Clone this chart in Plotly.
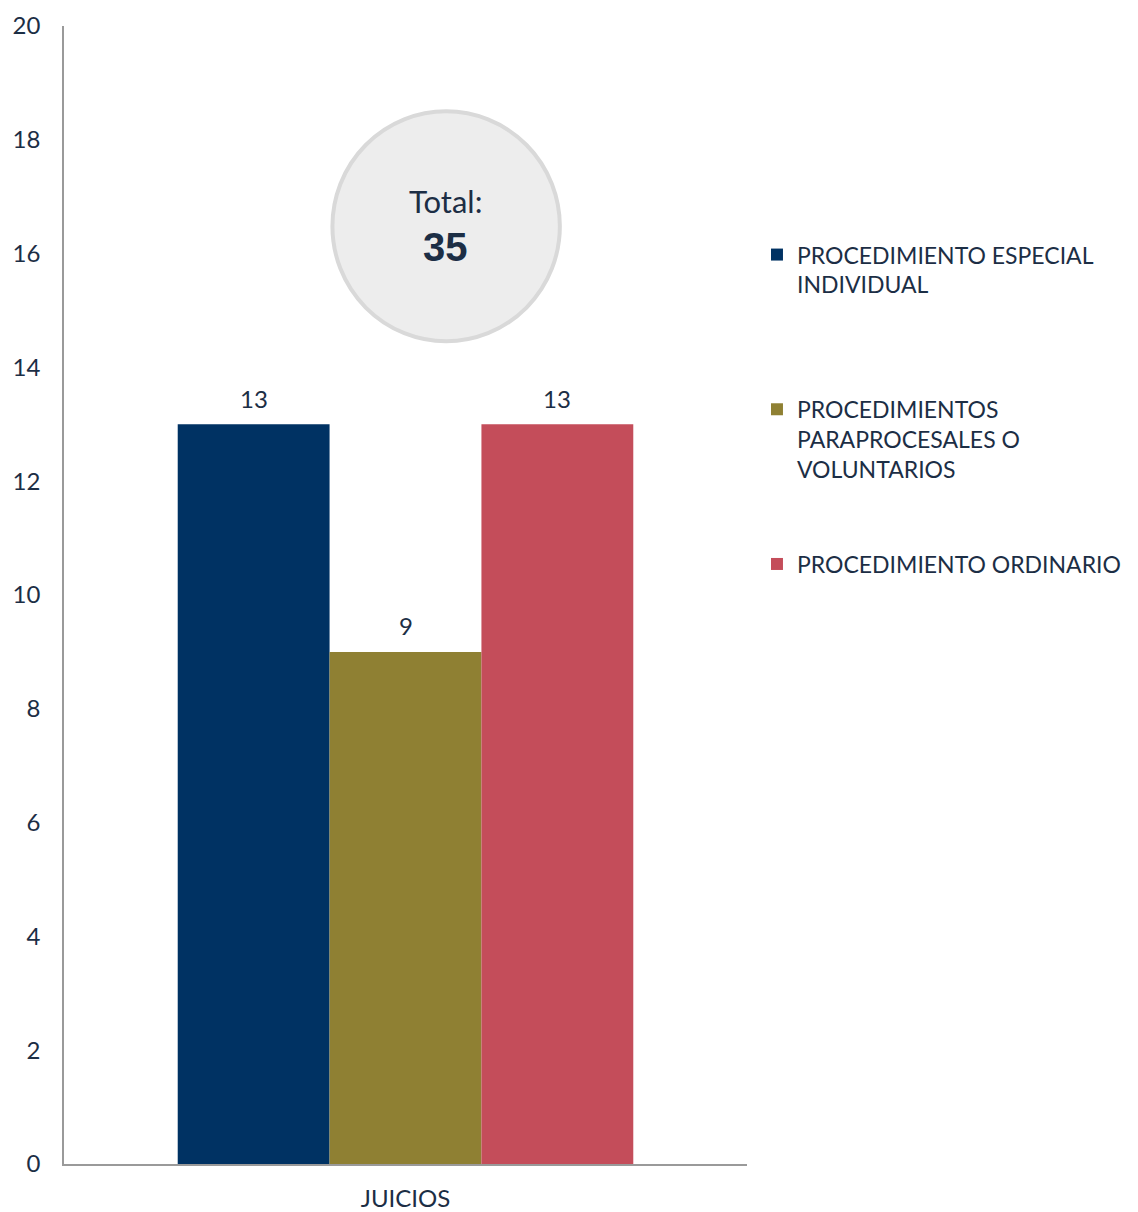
import plotly.graph_objects as go

categories = ["JUICIOS"]
series_names = [
    "PROCEDIMIENTO ESPECIAL<br>INDIVIDUAL<br> ",
    "PROCEDIMIENTOS<br>PARAPROCESALES O<br>VOLUNTARIOS",
    "PROCEDIMIENTO ORDINARIO",
]
series_values = [[13], [9], [13]]
series_colors = ["#003263", "#8F8033", "#C44D5A"]
total_label = "Total:"
total_value = "35"
y_ticks = [0, 2, 4, 6, 8, 10, 12, 14, 16, 18, 20]

FONT = "Lato"
TEXT = "#1C2E45"
BARGAP = 0.333
PLOT_W = 683

fig = go.Figure()
for i, (name, vals, col) in enumerate(zip(series_names, series_values, series_colors)):
    fig.add_trace(go.Bar(
        x=categories, y=vals, name=name, marker=dict(color=col, line=dict(width=0)),
        legendgroup=f"g{i}",
    ))

# value labels above bars
bar_w = PLOT_W * (1 - BARGAP) / len(series_values)
for i, vals in enumerate(series_values):
    for c, v in zip(categories, vals):
        fig.add_annotation(x=c, y=v, xref="x", yref="y", text=str(v), showarrow=False,
                           xshift=(i - (len(series_values) - 1) / 2) * bar_w,
                           yanchor="middle", yshift=26,
                           font=dict(size=24, color=TEXT, family=FONT))

fig.update_layout(
    width=1138, height=1212,
    margin=dict(l=56, r=399, t=18, b=56),
    paper_bgcolor="white", plot_bgcolor="white",
    barmode="group", bargap=BARGAP, bargroupgap=0,
    font=dict(family=FONT, color=TEXT, size=24),
    showlegend=True,
    legend=dict(x=1.0146, y=0.818, xanchor="left", yanchor="top",
                font=dict(size=23, color=TEXT, family=FONT),
                tracegroupgap=62, valign="top", itemwidth=30,
                bgcolor="rgba(0,0,0,0)"),
    xaxis=dict(showline=True, linecolor="#9A9A9A", linewidth=2, ticks="",
               tickfont=dict(size=24, color=TEXT), showgrid=False,
               ticklabelstandoff=12, automargin=False),
    yaxis=dict(range=[0, 20], tickvals=y_ticks, showline=True, linecolor="#9A9A9A",
               linewidth=1.5, showgrid=False, zeroline=False, ticks="",
               tickfont=dict(size=24, color=TEXT), ticklabelstandoff=17,
               automargin=False),
)

fig.add_shape(type="circle", xref="paper", yref="paper",
              x0=0.393, x1=0.726, y0=0.723, y1=0.925,
              fillcolor="#EDEDED", line=dict(color="#D9D9D9", width=4), layer="above")
fig.add_annotation(xref="paper", yref="paper", x=0.558, y=0.846, text=total_label,
                   showarrow=False, yanchor="middle", xanchor="center",
                   font=dict(size=31, color=TEXT, family=FONT))
fig.add_annotation(xref="paper", yref="paper", x=0.558, y=0.806, text=f"<b>{total_value}</b>",
                   showarrow=False, yanchor="middle", xanchor="center",
                   font=dict(size=40, color=TEXT, family="Liberation Sans"))

fig.write_html("out.html")
